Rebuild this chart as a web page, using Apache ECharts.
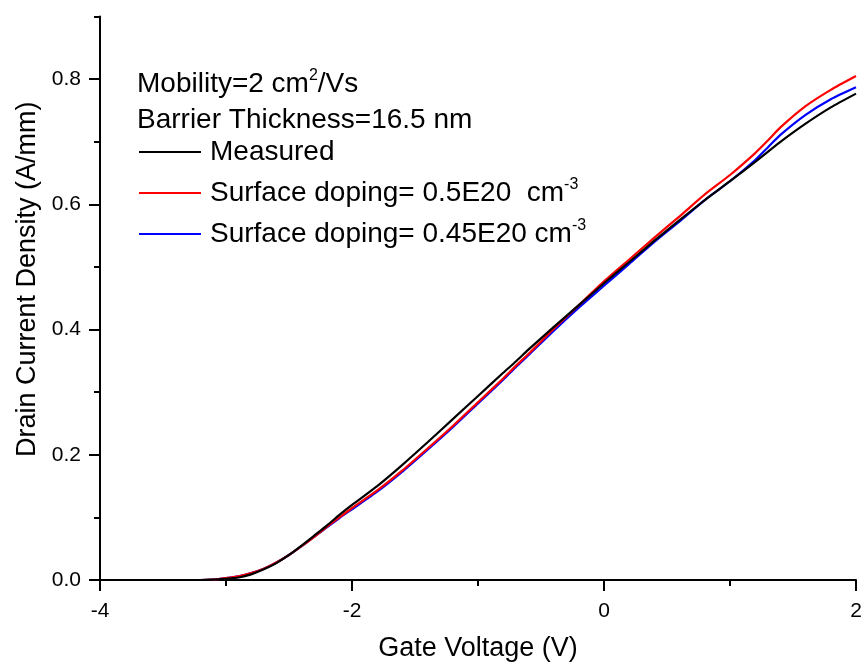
<!DOCTYPE html>
<html><head><meta charset="utf-8">
<script src="https://cdn.jsdelivr.net/npm/echarts@6/dist/echarts.min.js"></script>
<style>html,body{margin:0;padding:0;background:#fff}#c{width:867px;height:671px}</style>
</head><body><div id="c"></div>
<script>
const gateVoltage = [-4, -3.5, -3.2, -3.1, -3.0, -2.9, -2.8, -2.7, -2.6, -2.5, -2.4, -2.3, -2.2, -2.1, -2.0, -1.8, -1.6, -1.4, -1.2, -1.0, -0.8, -0.7, -0.6, -0.4, -0.2, 0, 0.2, 0.4, 0.6, 0.8, 1.0, 1.2, 1.3, 1.4, 1.6, 1.8, 2.0];
const measured = [0, 0, 0, 0.0005, 0.002, 0.004, 0.009, 0.017, 0.027, 0.040, 0.055, 0.071, 0.087, 0.104, 0.120, 0.150, 0.184, 0.220, 0.257, 0.294, 0.331, 0.349, 0.368, 0.404, 0.439, 0.474, 0.508, 0.542, 0.575, 0.607, 0.637, 0.668, 0.684, 0.700, 0.729, 0.755, 0.777];
const doping05 = [0, 0, 0, 0.0007, 0.003, 0.006, 0.011, 0.018, 0.028, 0.040, 0.054, 0.069, 0.085, 0.100, 0.115, 0.143, 0.175, 0.210, 0.246, 0.284, 0.322, 0.342, 0.361, 0.401, 0.439, 0.477, 0.512, 0.547, 0.581, 0.616, 0.647, 0.682, 0.702, 0.723, 0.757, 0.783, 0.805];
const doping045 = [0, 0, 0, 0.0007, 0.003, 0.006, 0.011, 0.018, 0.028, 0.040, 0.054, 0.069, 0.084, 0.099, 0.113, 0.141, 0.173, 0.208, 0.244, 0.282, 0.320, 0.340, 0.359, 0.398, 0.435, 0.470, 0.505, 0.540, 0.573, 0.607, 0.637, 0.671, 0.691, 0.711, 0.743, 0.768, 0.787];
const xTickLabels = [-4, -2, 0, 2];
const yMajorTicks = [0, 0.2, 0.4, 0.6, 0.8];
const yMinorTicks = [0.1, 0.3, 0.5, 0.7, 0.9];
const seriesNames = ['Measured', 'Surface doping= 0.5E20  cm-3', 'Surface doping= 0.45E20 cm-3'];
const seriesColors = ['#000000', '#ff0000', '#0000ff'];
const infoLines = ['Mobility=2 cm{sup|2}/Vs', 'Barrier Thickness=16.5 nm'];

const FF = "'Liberation Sans', Arial, sans-serif";
const values = [measured, doping05, doping045];
const chart = echarts.init(document.getElementById('c'), null, {renderer: 'canvas'});
const supRich = {
  sup: {fontSize: 16, fontFamily: FF, color: '#000', verticalAlign: 'top', lineHeight: 14},
  pad: {width: 4}
};
const tickStyle = {color: '#000', width: 2};

chart.setOption({
  backgroundColor: '#ffffff',
  animation: false,
  grid: {left: 100, right: 11, top: 16.6, bottom: 91, containLabel: false, outerBoundsMode: 'none'},
  title: infoLines.map((t, i) => ({
    text: t, left: 137, top: 68 + i * 36, padding: 0,
    textStyle: {fontSize: 28, fontFamily: FF, fontWeight: 'normal', color: '#000', lineHeight: 32, rich: supRich}
  })),
  legend: {
    show: true, orient: 'vertical', left: 139, top: 136, padding: 0,
    icon: 'rect', itemWidth: 62, itemHeight: 2, itemGap: 9, selectedMode: false,
    data: seriesNames,
    formatter: n => '{pad|}' + n.replace(/cm-3$/, 'cm{sup|-3}'),
    textStyle: {fontSize: 28, fontFamily: FF, color: '#000', lineHeight: 32, rich: supRich}
  },
  xAxis: {
    type: 'value', min: xTickLabels[0], max: xTickLabels[xTickLabels.length - 1], interval: 2,
    name: 'Gate Voltage (V)', nameLocation: 'middle', nameGap: 55,
    nameTextStyle: {fontSize: 27, fontFamily: FF, color: '#000'},
    axisLine: {show: true, onZero: false, lineStyle: {color: '#000', width: 2}},
    axisTick: {show: true, inside: false, length: 11, lineStyle: tickStyle},
    minorTick: {show: true, splitNumber: 2, length: 6, lineStyle: tickStyle},
    axisLabel: {show: true, margin: 21, fontSize: 21, fontFamily: FF, color: '#000', formatter: v => String(v)},
    splitLine: {show: false}, minorSplitLine: {show: false}
  },
  yAxis: [{
    type: 'value', min: 0, max: 0.9, position: 'left',
    name: 'Drain Current Density (A/mm)', nameLocation: 'middle', nameGap: 56,
    nameTextStyle: {fontSize: 27, fontFamily: FF, color: '#000', padding: [0, 0, 0, 38]},
    axisLine: {show: true, onZero: false, lineStyle: {color: '#000', width: 2}},
    axisTick: {show: true, inside: false, length: 11, lineStyle: tickStyle, customValues: yMajorTicks},
    axisLabel: {show: true, margin: 19, fontSize: 21, fontFamily: FF, color: '#000', customValues: yMajorTicks, formatter: v => v.toFixed(1)},
    splitLine: {show: false}
  }, {
    type: 'value', min: 0, max: 0.9, position: 'left', offset: 0,
    axisLine: {show: false, onZero: false},
    axisTick: {show: true, inside: false, length: 6, lineStyle: tickStyle, customValues: yMinorTicks},
    axisLabel: {show: false},
    splitLine: {show: false}
  }],
  series: seriesNames.map((n, i) => ({
    name: n, type: 'line', symbol: 'none', smooth: 0.2,
    lineStyle: {color: seriesColors[i], width: 2.2}, itemStyle: {color: seriesColors[i]},
    data: gateVoltage.map((v, j) => [v, values[i][j]]),
    z: 3 - i
  }))
});
</script></body></html>
